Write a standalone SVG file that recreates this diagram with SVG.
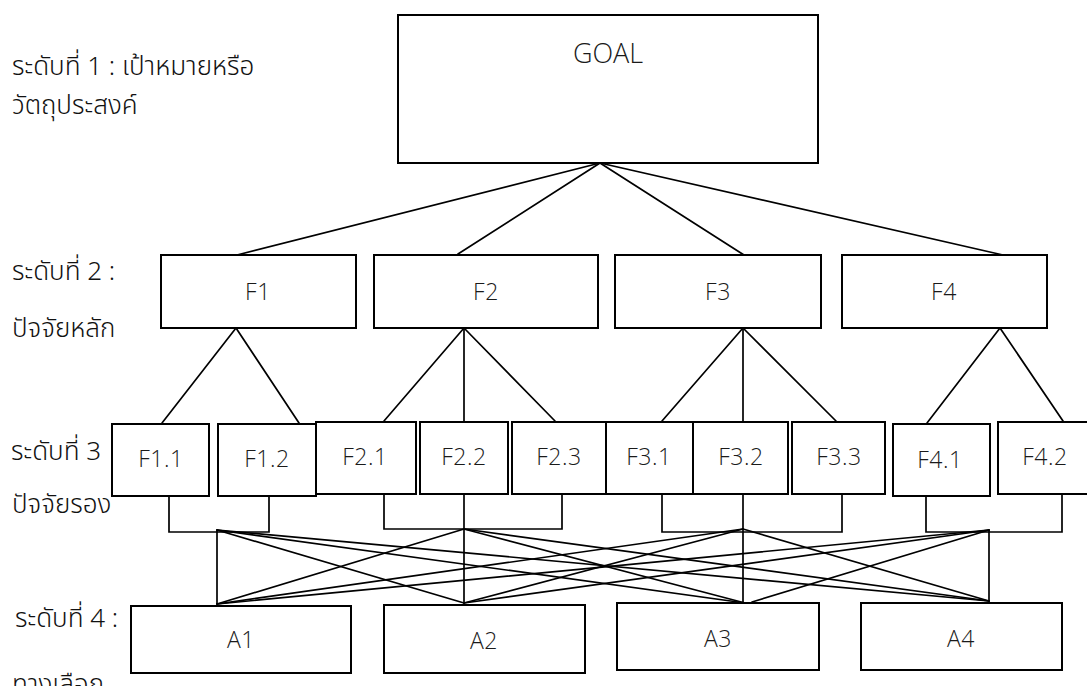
<svg xmlns="http://www.w3.org/2000/svg" width="1087" height="686" viewBox="0 0 1087 686">
  <style>
    .box { fill: #ffffff; stroke: #000000; stroke-width: 2; }
    .ln { fill: none; stroke: #000000; stroke-width: 1.7; stroke-linecap: round; stroke-linejoin: miter; }
    .t { font-family: "Open Sans", "Noto Sans", "DejaVu Sans", sans-serif; font-weight: 300; fill: #1a1a1a; text-anchor: middle; letter-spacing: 0.6px; }
    .t2 { font-size: 23px; }
    .t3 { font-size: 23px; }
    .tg { font-size: 27px; letter-spacing: 0; }
    .lbl { font-family: "Noto Sans Thai", "Noto Sans", "Liberation Sans", sans-serif; font-weight: 300; font-size: 26px; fill: #111111; }
  </style>

  <rect width="1087" height="686" fill="#ffffff"/>

  <!-- level captions on the left -->
  <g id="captions">
    <text class="lbl" x="12" y="75">ระดับที่ 1 : เป้าหมายหรือ</text>
    <text class="lbl" x="12" y="114">วัตถุประสงค์</text>
    <text class="lbl" x="12" y="280">ระดับที่ 2 :</text>
    <text class="lbl" x="12" y="337">ปัจจัยหลัก</text>
    <text class="lbl" x="11" y="460">ระดับที่ 3</text>
    <text class="lbl" x="12" y="513">ปัจจัยรอง</text>
    <text class="lbl" x="15" y="627">ระดับที่ 4 :</text>
    <text class="lbl" x="12" y="693">ทางเลือก</text>
  </g>

  <!-- connectors -->
  <g id="connectors" class="ln">
    <!-- goal to main factors -->
    <line x1="600" y1="163" x2="237" y2="255"/>
    <line x1="600" y1="163" x2="458" y2="254"/>
    <line x1="600" y1="163" x2="744" y2="255"/>
    <line x1="600" y1="163" x2="1003" y2="255"/>

    <!-- main factors to sub-factors -->
    <line x1="236" y1="328" x2="162" y2="423"/>
    <line x1="236" y1="328" x2="299" y2="423"/>
    <line x1="464" y1="328" x2="384" y2="421"/>
    <line x1="464" y1="328" x2="464" y2="421"/>
    <line x1="464" y1="328" x2="555" y2="421"/>
    <line x1="743" y1="328" x2="662" y2="421"/>
    <line x1="743" y1="328" x2="743" y2="421"/>
    <line x1="743" y1="328" x2="836" y2="421"/>
    <line x1="1000" y1="328" x2="927" y2="423"/>
    <line x1="1000" y1="328" x2="1063" y2="421"/>

    <!-- brackets under the sub-factor groups -->
    <polyline points="169,496 169,532 269,532 269,496"/>
    <polyline points="384,494 384,529 562,529 562,494"/>
    <polyline points="662,494 662,532 842,532 842,494"/>
    <polyline points="926,496 926,532 1062,532 1062,494"/>

    <!-- drops to alternatives -->
    <line x1="217" y1="530" x2="217" y2="604"/>
    <line x1="464" y1="494" x2="464" y2="603"/>
    <line x1="743" y1="494" x2="743" y2="604"/>
    <line x1="989" y1="530" x2="989" y2="602"/>

    <!-- full cross links between groups and alternatives -->
    <line x1="217" y1="530" x2="464" y2="603"/>
    <line x1="217" y1="530" x2="745" y2="603"/>
    <line x1="217" y1="530" x2="989" y2="601"/>
    <line x1="464" y1="529" x2="217" y2="604"/>
    <line x1="464" y1="529" x2="745" y2="603"/>
    <line x1="464" y1="529" x2="989" y2="601"/>
    <line x1="743" y1="529" x2="217" y2="604"/>
    <line x1="743" y1="529" x2="464" y2="603"/>
    <line x1="743" y1="529" x2="989" y2="601"/>
    <line x1="989" y1="530" x2="217" y2="604"/>
    <line x1="989" y1="530" x2="464" y2="603"/>
    <line x1="989" y1="530" x2="752" y2="602"/>
  </g>

  <!-- level 1 -->
  <g id="goal">
    <rect class="box" x="398" y="15" width="420" height="148"/>
    <text class="t tg" x="608" y="63">GOAL</text>
  </g>

  <!-- level 2 -->
  <g id="f1">
    <rect class="box" x="161" y="255" width="195" height="73"/>
    <text class="t t2" x="258" y="300">F1</text>
  </g>
  <g id="f2">
    <rect class="box" x="374" y="255" width="224" height="73"/>
    <text class="t t2" x="486" y="300">F2</text>
  </g>
  <g id="f3">
    <rect class="box" x="615" y="255" width="206" height="73"/>
    <text class="t t2" x="718" y="300">F3</text>
  </g>
  <g id="f4">
    <rect class="box" x="842" y="255" width="205" height="73"/>
    <text class="t t2" x="944" y="300">F4</text>
  </g>

  <!-- level 3 -->
  <g id="f1-1">
    <rect class="box" x="112" y="424" width="97" height="72"/>
    <text class="t t3" x="161" y="467">F1.1</text>
  </g>
  <g id="f1-2">
    <rect class="box" x="218" y="424" width="98" height="72"/>
    <text class="t t3" x="267" y="467">F1.2</text>
  </g>
  <g id="f2-1">
    <rect class="box" x="316" y="422" width="100" height="72"/>
    <text class="t t3" x="365" y="465">F2.1</text>
  </g>
  <g id="f2-2">
    <rect class="box" x="420" y="422" width="88" height="72"/>
    <text class="t t3" x="464" y="465">F2.2</text>
  </g>
  <g id="f2-3">
    <rect class="box" x="512" y="422" width="94" height="72"/>
    <text class="t t3" x="559" y="465">F2.3</text>
  </g>
  <g id="f3-1">
    <rect class="box" x="606" y="422" width="87" height="72"/>
    <text class="t t3" x="649" y="465">F3.1</text>
  </g>
  <g id="f3-2">
    <rect class="box" x="693" y="422" width="95" height="72"/>
    <text class="t t3" x="741" y="465">F3.2</text>
  </g>
  <g id="f3-3">
    <rect class="box" x="792" y="422" width="93" height="72"/>
    <text class="t t3" x="839" y="465">F3.3</text>
  </g>
  <g id="f4-1">
    <rect class="box" x="893" y="424" width="97" height="72"/>
    <text class="t t3" x="940" y="468">F4.1</text>
  </g>
  <g id="f4-2">
    <rect class="box" x="998" y="422" width="95" height="72"/>
    <text class="t t3" x="1045" y="465">F4.2</text>
  </g>

  <!-- level 4 -->
  <g id="a1">
    <rect class="box" x="131" y="606" width="220" height="67"/>
    <text class="t t3" x="241" y="648">A1</text>
  </g>
  <g id="a2">
    <rect class="box" x="384" y="605" width="201" height="68"/>
    <text class="t t3" x="484" y="649">A2</text>
  </g>
  <g id="a3">
    <rect class="box" x="617" y="603" width="202" height="67"/>
    <text class="t t3" x="718" y="647">A3</text>
  </g>
  <g id="a4">
    <rect class="box" x="861" y="603" width="201" height="67"/>
    <text class="t t3" x="961" y="647">A4</text>
  </g>
</svg>
